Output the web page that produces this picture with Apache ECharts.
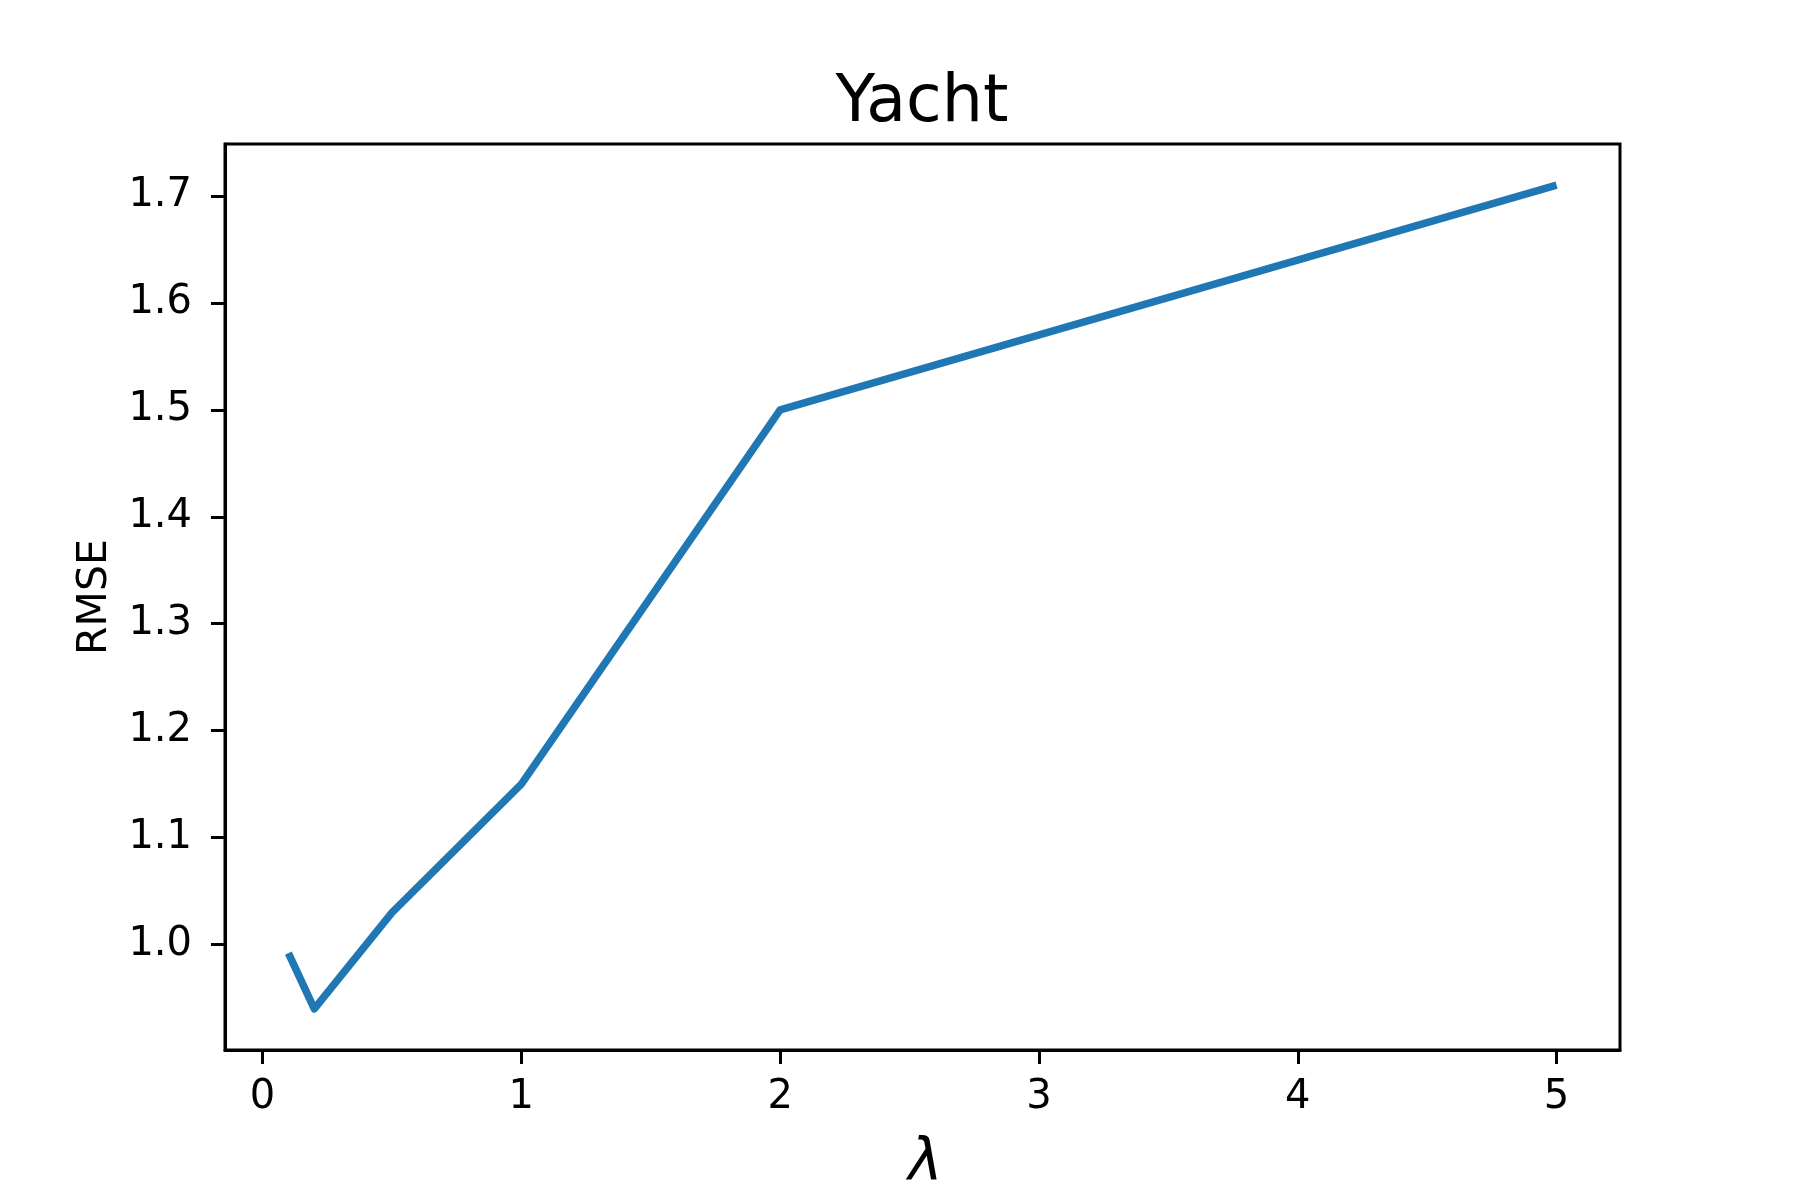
<!DOCTYPE html>
<html>
<head>
<meta charset="utf-8">
<script src="https://cdn.jsdelivr.net/npm/echarts@6/dist/echarts.min.js"></script>
<style>
  html, body { margin: 0; padding: 0; background: #fff; }
  #chart { width: 1800px; height: 1200px; }
</style>
</head>
<body>
<div id="chart"></div>
<script>
// data
const lambdas = [0.1, 0.2, 0.5, 1, 2, 5]
const rmse = [0.992, 0.94, 1.03, 1.15, 1.50, 1.71]
const xTicks = [0, 1, 2, 3, 4, 5]
const yTicks = [1.0, 1.1, 1.2, 1.3, 1.4, 1.5, 1.6, 1.7]

const font = 'DejaVu Sans'
const chart = echarts.init(document.getElementById('chart'))

chart.setOption({
  animation: false,
  backgroundColor: '#fff',
  title: {
    text: 'Yacht',
    left: 917,
    textAlign: 'center',
    top: 67,
    textStyle: { fontFamily: font, fontSize: 65, fontWeight: 'normal', color: '#000', lineHeight: 65 }
  },
  grid: {
    left: 225, right: 180, top: 144, bottom: 150,
    show: true, borderColor: '#000', borderWidth: 3
  },
  xAxis: {
    type: 'value',
    min: -0.145,
    max: 5.245,
    name: 'λ',
    nameLocation: 'middle',
    nameGap: 86,
    nameTextStyle: { fontFamily: font, fontStyle: 'italic', fontSize: 58, color: '#000', padding: [0, 0, 0, 6] },
    axisLine: { show: true, onZero: false, lineStyle: { color: '#000', width: 3 } },
    axisTick: { show: true, length: 14, customValues: xTicks, lineStyle: { color: '#000', width: 3 } },
    axisLabel: { customValues: xTicks, margin: 28, fontFamily: font, fontSize: 40, color: '#000' },
    splitLine: { show: false }
  },
  yAxis: {
    type: 'value',
    min: 0.9015,
    max: 1.7485,
    name: 'RMSE',
    nameLocation: 'middle',
    nameGap: 109,
    nameTextStyle: { fontFamily: font, fontSize: 41, color: '#000' },
    axisLine: { show: true, onZero: false, lineStyle: { color: '#000', width: 3 } },
    axisTick: { show: true, length: 14, customValues: yTicks, lineStyle: { color: '#000', width: 3 } },
    axisLabel: {
      customValues: yTicks, margin: 33, fontFamily: font, fontSize: 40, color: '#000',
      formatter: v => v.toFixed(1)
    },
    splitLine: { show: false }
  },
  series: [{
    type: 'line',
    data: lambdas.map((x, i) => [x, rmse[i]]),
    showSymbol: false,
    lineStyle: { color: '#1f77b4', width: 7.5, cap: 'butt', join: 'round' },
    itemStyle: { color: '#1f77b4' }
  }]
})
</script>
</body>
</html>
